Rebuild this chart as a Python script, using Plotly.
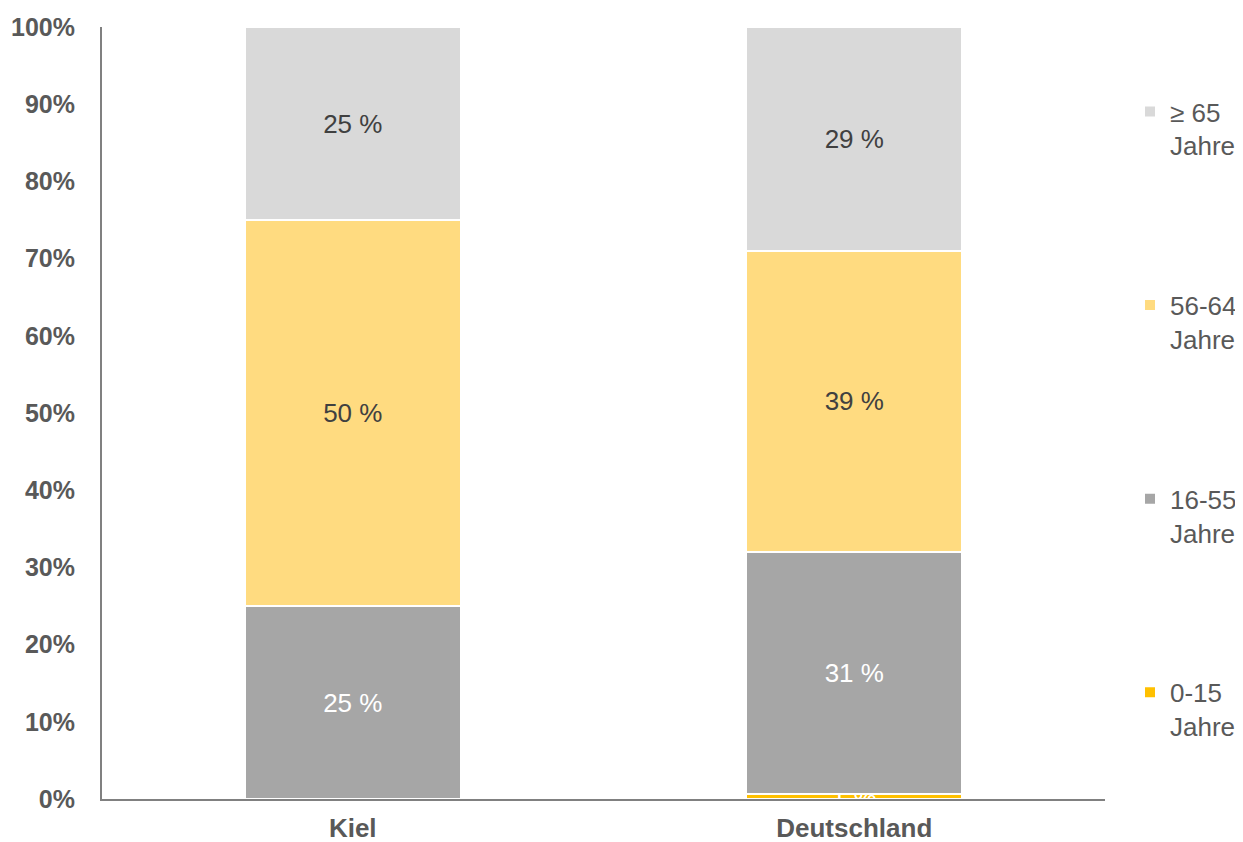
import plotly.graph_objects as go

categories = ["Kiel", "Deutschland"]
series_names = ["0-15<br>Jahre", "16-55<br>Jahre", "56-64<br>Jahre", "≥ 65<br>Jahre"]
v_0_15 = [0.0, 0.6]
v_16_55 = [25.0, 31.4]
v_56_64 = [50.0, 39.0]
v_65 = [25.0, 29.0]
labels_0_15 = ["", "1 %"]
labels_16_55 = ["25 %", "31 %"]
labels_56_64 = ["50 %", "39 %"]
labels_65 = ["25 %", "29 %"]
y_ticks = [0, 10, 20, 30, 40, 50, 60, 70, 80, 90, 100]
colors = ["#FFC000", "#A6A6A6", "#FFDB80", "#D9D9D9"]
text_colors = ["#FFFFFF", "#FFFFFF", "#404040", "#404040"]

values = [v_0_15, v_16_55, v_56_64, v_65]
labels = [labels_0_15, labels_16_55, labels_56_64, labels_65]

FONT = "Liberation Sans, Arial"

fig = go.Figure()
for i in range(4):
    fig.add_trace(go.Bar(
        x=categories, y=values[i], name=series_names[i],
        marker=dict(color=colors[i], line=dict(color="#FFFFFF", width=2)),
        text=labels[i], textposition="inside", insidetextanchor="middle",
        constraintext="none",
        textfont=dict(color=text_colors[i], size=26, family=FONT),
        legendgroup=f"g{i}", legendrank=4 - i, width=0.43, cliponaxis=False,
    ))

# page body has an 8px margin, so the figure is slightly smaller than the window
fig.update_layout(
    barmode="stack",
    width=1235, height=834,
    margin=dict(l=94, r=138, t=19, b=43),
    plot_bgcolor="white", paper_bgcolor="white",
    font=dict(family=FONT, size=26, color="#595959"),
    legend=dict(
        traceorder="grouped", tracegroupgap=123,
        xref="container", yref="container",
        x=0.9085, xanchor="left", y=0.904, yanchor="top",
        font=dict(size=26, color="#595959", family=FONT),
        itemwidth=30, maxheight=780, valign="top",
    ),
)
fig.update_yaxes(
    range=[0, 100], tickvals=y_ticks,
    ticktext=[f"<b>{v}%</b>" for v in y_ticks],
    showgrid=False, showline=True, linecolor="#808080", linewidth=2,
    tickfont=dict(size=25, color="#595959", family=FONT),
    ticks="", ticklabelstandoff=20, zeroline=False, automargin=False,
)
fig.update_xaxes(
    showline=True, linecolor="#808080", linewidth=2, ticks="",
    tickfont=dict(size=26, color="#595959", family=FONT),
    tickprefix="<b>", ticksuffix="</b>", automargin=False,
    ticklabelstandoff=5,
)
fig.write_html("out.html")
